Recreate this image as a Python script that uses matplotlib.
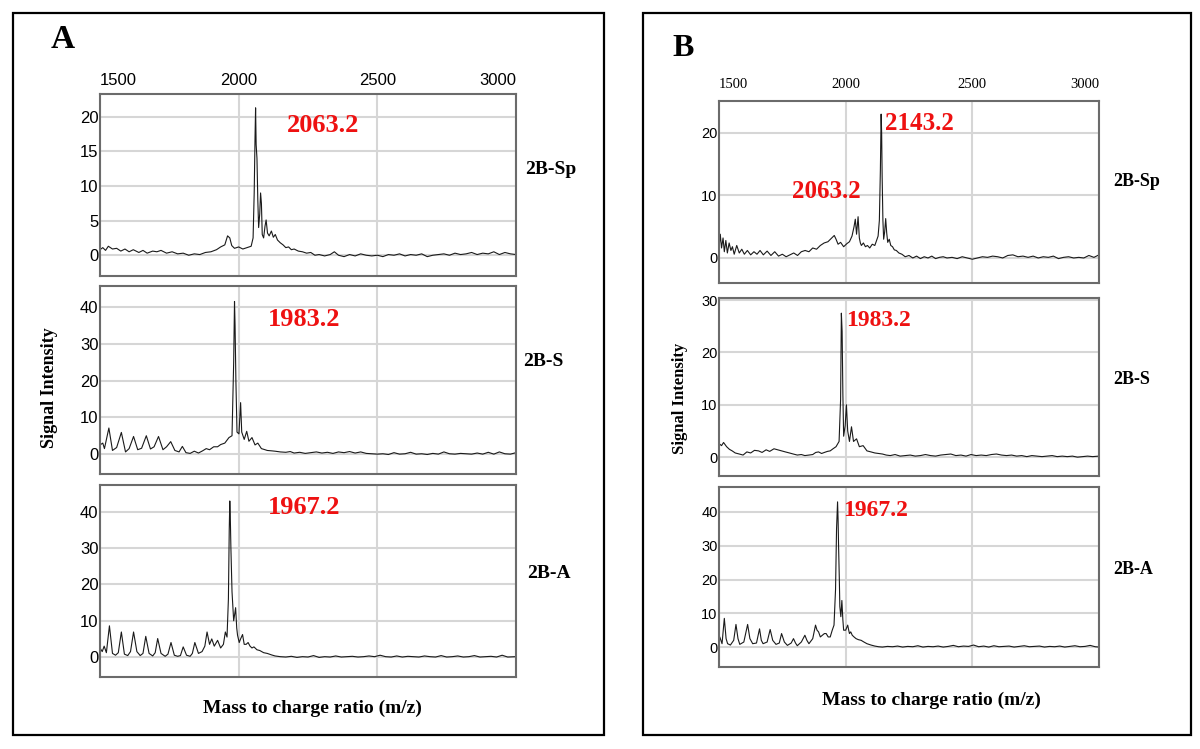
import matplotlib.pyplot as plt
from matplotlib.patches import Rectangle

W, H = 1200, 749

# m/z axis shared by every panel
mz_ticks = [1500, 2000, 2500, 3000]

# panel A, 2B-Sp
a_sp_mz = [1500, 1510, 1520, 1530, 1545, 1560, 1575, 1590, 1605, 1620, 1640, 1655, 1670, 1690, 1705,
           1720, 1740, 1760, 1780, 1800, 1820, 1840, 1860, 1880, 1900, 1920, 1935, 1950, 1960, 1968,
           1975, 1985, 2000, 2015, 2030, 2045, 2052, 2056, 2059, 2061, 2063, 2066, 2069, 2072, 2076,
           2079, 2082, 2085, 2090, 2095, 2099, 2104, 2110, 2118, 2125, 2132, 2140, 2150, 2160, 2170,
           2180, 2190, 2200, 2215, 2230, 2245, 2260, 2275, 2290, 2310, 2330, 2345, 2360, 2380, 2400,
           2420, 2440, 2460, 2480, 2500, 2520, 2540, 2560, 2580, 2600, 2620, 2640, 2660, 2680, 2700,
           2720, 2740, 2760, 2780, 2800, 2820, 2840, 2860, 2880, 2900, 2920, 2940, 2960, 2980, 3000]
a_sp_int = [0.8, 1.1, 0.7, 1.3, 0.9, 1.0, 0.6, 0.9, 0.5, 0.8, 0.4, 0.7, 0.3, 0.6, 0.5,
            0.7, 0.3, 0.5, 0.2, 0.3, 0.0, 0.2, 0.1, 0.4, 0.5, 0.8, 1.2, 1.5, 2.8, 2.5,
            1.4, 1.0, 1.2, 0.9, 1.1, 1.3, 2.5, 9.0, 17.0, 21.3, 16.0, 14.0, 8.0, 4.0, 6.0,
            9.0, 7.5, 3.0, 2.5, 4.2, 5.1, 3.2, 2.8, 3.5, 2.6, 3.0, 2.2, 1.8, 1.5, 1.1,
            1.2, 0.8, 0.9, 0.6, 0.5, 0.3, 0.4, 0.0, 0.1, -0.1, 0.1, 0.5, 0.0, -0.2, 0.1,
            -0.1, 0.2, 0.0, -0.1, 0.0, -0.2, 0.1, 0.0, 0.2, -0.1, 0.1, 0.0, 0.2, -0.2, 0.0,
            0.1, 0.2, 0.0, 0.3, 0.1, 0.2, 0.4, 0.1, 0.3, 0.2, 0.5, 0.1, 0.4, 0.2, 0.1]

# panel A, 2B-S
a_s_mz = [1500, 1510, 1516, 1532, 1545, 1560, 1577, 1592, 1605, 1621, 1636, 1650, 1667, 1682, 1695,
          1711, 1727, 1740, 1755, 1770, 1785, 1797, 1810, 1825, 1840, 1855, 1870, 1883, 1895, 1910,
          1924, 1935, 1950, 1965, 1976, 1982, 1985, 1987, 1990, 1994, 2001, 2007, 2011, 2020, 2029,
          2037, 2048, 2059, 2069, 2082, 2095, 2103, 2118, 2131, 2150, 2170, 2186, 2200, 2220, 2240,
          2260, 2280, 2300, 2320, 2340, 2360, 2380, 2400, 2420, 2440, 2460, 2480, 2500, 2520, 2540,
          2560, 2580, 2600, 2620, 2640, 2660, 2680, 2700, 2720, 2740, 2760, 2780, 2800, 2820, 2840,
          2860, 2880, 2900, 2920, 2940, 2960, 2980, 3000]
a_s_int = [2.5, 3.0, 1.5, 7.1, 1.0, 1.8, 5.9, 0.6, 1.5, 4.8, 1.2, 1.6, 5.0, 1.4, 2.0,
           4.8, 1.2, 2.0, 3.4, 1.0, 0.6, 2.1, 0.4, 0.2, 0.8, 0.3, 0.9, 1.5, 1.2, 2.0,
           2.0, 2.6, 3.0, 4.5, 5.0, 25.0, 41.5, 35.0, 20.0, 6.0, 5.5, 14.0, 6.0, 4.0, 6.2,
           3.5, 4.5, 2.5, 3.0, 1.5, 1.2, 1.0, 0.9, 0.8, 0.6, 0.5, 0.7, 0.3, 0.5, 0.2,
           0.4, 0.6, 0.3, 0.5, 0.2, 0.6, 0.4, 0.7, 0.3, 0.6, 0.2, 0.1, 0.0, 0.1, -0.1,
           0.4, 0.0, 0.1, 0.5, 0.0, 0.1, -0.1, 0.2, 0.0, 0.6, 0.1, 0.0, 0.2, 0.1, 0.0,
           0.3, 0.0, 0.5, 0.0, 0.6, 0.1, 0.0, 0.4]

# panel A, 2B-A
a_a_mz = [1500, 1508, 1515, 1523, 1534, 1545, 1556, 1566, 1577, 1588, 1600, 1610, 1621, 1633, 1645,
          1655, 1665, 1677, 1690, 1699, 1708, 1720, 1735, 1745, 1756, 1768, 1780, 1790, 1800, 1812,
          1825, 1833, 1842, 1855, 1868, 1878, 1886, 1895, 1903, 1912, 1924, 1935, 1945, 1952, 1958,
          1963, 1966, 1968, 1970, 1972, 1976, 1982, 1986, 1989, 1993, 1996, 2002, 2007, 2014, 2020,
          2027, 2034, 2041, 2048, 2055, 2066, 2076, 2090, 2103, 2118, 2131, 2150, 2170, 2190, 2210,
          2230, 2250, 2270, 2290, 2310, 2330, 2350, 2370, 2390, 2410, 2430, 2450, 2470, 2490, 2510,
          2530, 2550, 2570, 2590, 2610, 2630, 2650, 2670, 2690, 2710, 2730, 2750, 2770, 2790, 2810,
          2830, 2850, 2870, 2890, 2910, 2930, 2950, 2970, 3000]
a_a_int = [2.5, 1.5, 3.0, 1.2, 8.6, 1.0, 0.5, 1.2, 6.9, 0.8, 0.4, 1.5, 6.9, 1.5, 0.4,
           1.0, 5.7, 1.0, 0.3, 1.2, 5.1, 1.0, 0.2, 0.8, 4.0, 0.5, 0.2, 0.4, 2.8, 0.5,
           0.2, 1.0, 4.0, 1.0, 1.5, 3.0, 6.9, 3.5, 5.0, 3.0, 4.6, 2.5, 3.5, 6.9, 5.5,
           16.0, 35.0, 43.0, 38.0, 30.0, 18.0, 10.0, 12.0, 13.6, 8.0, 6.0, 4.0, 5.0, 6.2, 3.5,
           3.5, 4.0, 3.0, 2.5, 2.8, 2.0, 1.8, 1.2, 1.0, 0.6, 0.3, 0.1, 0.0, 0.2, -0.1,
           0.1, 0.0, 0.4, -0.1, 0.1, 0.0, 0.3, 0.0, 0.1, 0.2, 0.0, 0.1, 0.3, 0.1, 0.5,
           0.1, 0.0, 0.3, 0.0, 0.2, 0.1, 0.0, 0.3, 0.1, 0.0, 0.4, 0.0, 0.1, 0.3, 0.0,
           0.1, 0.4, 0.0, 0.1, 0.2, 0.0, 0.5, 0.0, 0.1]

# panel B, 2B-Sp
b_sp_mz = [1500, 1505, 1510, 1516, 1521, 1527, 1533, 1540, 1547, 1553, 1560, 1570, 1580, 1590, 1600,
           1612, 1625, 1638, 1650, 1662, 1675, 1690, 1705, 1720, 1735, 1750, 1765, 1780, 1795, 1810,
           1825, 1840, 1855, 1870, 1885, 1900, 1915, 1930, 1945, 1955, 1962, 1970, 1980, 1992, 2005,
           2015, 2025, 2033, 2038, 2043, 2049, 2054, 2058, 2062, 2070, 2078, 2086, 2095, 2105, 2115,
           2122, 2128, 2133, 2137, 2140, 2142, 2144, 2147, 2150, 2154, 2158, 2162, 2166, 2172, 2178,
           2185, 2192, 2200, 2210, 2222, 2235, 2250, 2265, 2280, 2295, 2310, 2325, 2340, 2355, 2370,
           2385, 2400, 2420, 2440, 2460, 2480, 2500, 2520, 2540, 2560, 2580, 2600, 2620, 2640, 2660,
           2680, 2700, 2720, 2740, 2760, 2780, 2800, 2820, 2840, 2860, 2880, 2900, 2920, 2940, 2960,
           2980, 3000]
b_sp_int = [1.5, 3.8, 1.6, 3.2, 1.0, 2.8, 0.8, 2.4, 1.2, 1.8, 0.6, 2.0, 0.8, 1.4, 0.6,
            1.2, 0.5, 1.0, 0.6, 1.2, 0.5, 1.1, 0.4, 1.0, 0.3, 0.6, 0.2, 0.5, 0.8, 0.4,
            1.0, 1.2, 1.0, 1.6, 1.4, 2.0, 2.4, 2.6, 3.2, 3.6, 3.0, 2.2, 2.5, 1.8, 2.3,
            2.6, 3.5, 5.0, 6.2, 3.8, 6.6, 3.2, 2.4, 2.0, 2.4, 1.8, 2.0, 1.6, 2.2, 2.0,
            2.8, 3.5, 6.0, 14.0, 23.0, 20.0, 13.0, 6.0, 3.0, 4.2, 6.3, 4.0, 2.5, 3.0, 2.0,
            1.8, 1.3, 1.2, 0.8, 0.6, 0.2, 0.4, 0.0, 0.3, -0.1, 0.2, 0.0, 0.3, -0.1, 0.1,
            0.2, 0.0, 0.1, -0.1, 0.2, 0.0, -0.2, 0.0, 0.2, 0.1, 0.3, 0.2, 0.0, 0.4, 0.5,
            0.2, 0.3, 0.1, 0.3, 0.0, 0.2, 0.1, 0.3, -0.1, 0.1, 0.2, 0.0, 0.1, 0.0, 0.4,
            0.1, 0.5]

# panel B, 2B-S
b_s_mz = [1500, 1510, 1518, 1530, 1541, 1552, 1564, 1580, 1595, 1610, 1625, 1640, 1656, 1670, 1686,
          1700, 1717, 1732, 1747, 1762, 1778, 1793, 1809, 1825, 1839, 1855, 1870, 1882, 1893, 1905,
          1916, 1928, 1939, 1950, 1962, 1974, 1980, 1983, 1986, 1989, 1992, 1998, 2003, 2008, 2015,
          2023, 2031, 2043, 2054, 2069, 2084, 2100, 2115, 2130, 2145, 2160, 2176, 2195, 2215, 2235,
          2255, 2275, 2295, 2315, 2335, 2355, 2375, 2395, 2415, 2435, 2455, 2475, 2495, 2515, 2535,
          2555, 2575, 2595, 2615, 2635, 2655, 2675, 2695, 2715, 2735, 2755, 2775, 2795, 2815, 2835,
          2855, 2875, 2895, 2915, 2935, 2955, 2975, 3000]
b_s_int = [2.6, 2.2, 2.8, 2.0, 1.5, 1.2, 0.8, 0.6, 0.4, 1.0, 0.8, 1.3, 1.2, 0.9, 1.4,
           1.1, 1.6, 1.4, 1.2, 1.0, 0.8, 0.6, 0.4, 0.5, 0.3, 0.4, 0.5, 0.9, 1.0, 0.7,
           0.9, 1.1, 1.2, 1.6, 2.0, 3.0, 11.0, 27.5, 24.0, 12.0, 4.0, 6.0, 10.0, 5.0, 3.0,
           5.8, 3.0, 3.5, 2.0, 2.2, 1.2, 1.0, 0.8, 0.7, 0.6, 0.4, 0.3, 0.5, 0.2, 0.3,
           0.4, 0.2, 0.3, 0.5, 0.3, 0.2, 0.4, 0.5, 0.6, 0.3, 0.4, 0.2, 0.5, 0.3, 0.4,
           0.3, 0.5, 0.6, 0.4, 0.3, 0.4, 0.2, 0.3, 0.1, 0.3, 0.2, 0.1, 0.2, 0.3, 0.1,
           0.2, 0.1, 0.2, 0.0, 0.1, 0.2, 0.1, 0.2]

# panel B, 2B-A
b_a_mz = [1500, 1503, 1512, 1521, 1528, 1534, 1545, 1558, 1567, 1575, 1582, 1598, 1613, 1622, 1633,
          1648, 1660, 1667, 1674, 1690, 1702, 1712, 1725, 1738, 1747, 1758, 1770, 1785, 1794, 1802,
          1809, 1825, 1839, 1847, 1855, 1870, 1881, 1887, 1893, 1900, 1908, 1916, 1923, 1931, 1939,
          1947, 1954, 1960, 1964, 1968, 1970, 1972, 1975, 1977, 1981, 1985, 1989, 1992, 2000, 2008,
          2012, 2015, 2020, 2026, 2033, 2041, 2050, 2061, 2072, 2084, 2100, 2115, 2130, 2145, 2165,
          2185, 2205, 2225, 2245, 2265, 2285, 2305, 2325, 2345, 2365, 2385, 2405, 2425, 2445, 2465,
          2485, 2505, 2525, 2545, 2565, 2585, 2605, 2625, 2645, 2665, 2685, 2705, 2725, 2745, 2765,
          2785, 2805, 2825, 2845, 2865, 2885, 2905, 2925, 2945, 2965, 2985, 3000]
b_a_int = [1.5, 3.0, 1.0, 8.5, 2.5, 1.0, 0.6, 2.0, 6.7, 2.5, 0.8, 1.5, 6.7, 2.5, 1.0,
           1.2, 5.4, 2.0, 1.0, 1.5, 5.2, 2.0, 0.8, 1.2, 4.0, 1.5, 0.5, 1.2, 2.5, 1.2,
           0.4, 1.5, 3.5, 2.0, 1.0, 2.5, 6.5, 5.0, 4.5, 3.0, 3.5, 4.0, 4.0, 3.0, 3.0,
           5.0, 6.5, 17.0, 35.0, 43.0, 38.0, 30.0, 20.0, 12.0, 9.0, 13.8, 8.0, 5.0, 5.0, 6.5,
           5.0, 4.0, 4.5, 3.5, 3.0, 2.5, 2.2, 2.0, 1.5, 1.0, 0.6, 0.3, 0.1, 0.0, 0.2,
           0.1, 0.3, 0.0, 0.2, 0.1, 0.4, 0.0, 0.2, 0.1, 0.3, 0.0, 0.2, 0.5, 0.1, 0.3,
           0.2, 0.6, 0.1, 0.3, 0.0, 0.4, 0.1, 0.2, 0.3, 0.0, 0.2, 0.4, 0.1, 0.2, 0.3,
           0.0, 0.2, 0.1, 0.3, 0.0, 0.2, 0.4, 0.1, 0.2, 0.5, 0.1, 0.0]

serif = 'Liberation Serif'
sans = 'Liberation Sans'
red = '#ee1111'


def px_axes(fig, l, t, r, b):
    return fig.add_axes([l / W, 1 - b / H, (r - l) / W, (b - t) / H])


def ftext(fig, x, y, s, **kw):
    kw.setdefault('ha', 'center')
    kw.setdefault('va', 'center')
    fig.text(x / W, 1 - y / H, s, **kw)


def spectrum(fig, box, mz, inten, ylim, yticks, ysize, top_labels=None):
    ax = px_axes(fig, *box)
    ax.plot(mz, inten, color='#1a1a1a', lw=0.8)
    ax.set_xlim(1500, 3000)
    ax.set_ylim(*ylim)
    ax.set_axisbelow(True)
    ax.grid(True, color='#d6d6d6', lw=1.5)
    ax.set_xticks(mz_ticks)
    ax.set_yticks(yticks)
    ax.set_yticklabels([str(v) for v in yticks], family=sans, fontsize=ysize)
    ax.tick_params(length=0, axis='y', pad=1)
    if top_labels:
        size, fam, pad = top_labels
        ax.xaxis.tick_top()
        ax.tick_params(axis='x', length=0, pad=pad)
        labels = ax.set_xticklabels([str(v) for v in mz_ticks], family=fam, fontsize=size)
        for lbl, ha in zip(labels, ['left', 'center', 'center', 'right']):
            lbl.set_ha(ha)
    else:
        ax.tick_params(axis='x', length=0, labelbottom=False, labeltop=False)
    for sp in ax.spines.values():
        sp.set_color('#6b6b6b')
        sp.set_linewidth(1.5)
    return ax


fig = plt.figure(figsize=(W / 100, H / 100), dpi=100)

# outer frames
for l, r in [(13, 604), (643, 1191)]:
    fig.add_artist(Rectangle((l / W, 1 - 735 / H), (r - l) / W, (735 - 13) / H,
                             transform=fig.transFigure, fill=False, lw=1.6, ec='black'))

# panel A
spectrum(fig, (100, 94, 516, 276), a_sp_mz, a_sp_int, (-3.0, 23.3), [0, 5, 10, 15, 20], 12,
         top_labels=(12, sans, 4))
spectrum(fig, (100, 286, 516, 474), a_s_mz, a_s_int, (-5.4, 45.7), [0, 10, 20, 30, 40], 12)
spectrum(fig, (100, 485, 516, 677), a_a_mz, a_a_int, (-5.5, 47.4), [0, 10, 20, 30, 40], 12)

ftext(fig, 63, 40, 'A', family=serif, weight='bold', fontsize=24)
ftext(fig, 323, 125, '2063.2', family=serif, weight='bold', fontsize=19, color=red)
ftext(fig, 304, 319, '1983.2', family=serif, weight='bold', fontsize=19, color=red)
ftext(fig, 304, 507, '1967.2', family=serif, weight='bold', fontsize=19, color=red)
ftext(fig, 551, 170, '2B-Sp', family=serif, weight='bold', fontsize=14)
ftext(fig, 543, 362, '2B-S', family=serif, weight='bold', fontsize=14)
ftext(fig, 549, 573, '2B-A', family=serif, weight='bold', fontsize=14)
ftext(fig, 50, 388, 'Signal Intensity', family=serif, weight='bold', fontsize=13, rotation=90)
ftext(fig, 312, 708, 'Mass to charge ratio (m/z)', family=serif, weight='bold', fontsize=14)

# panel B
spectrum(fig, (719, 101, 1099, 283), b_sp_mz, b_sp_int, (-4.0, 25.1), [0, 10, 20], 10.5,
         top_labels=(10.5, serif, 7))
spectrum(fig, (719, 298, 1099, 476), b_s_mz, b_s_int, (-3.6, 30.4), [0, 10, 20, 30], 10.5)
spectrum(fig, (719, 487, 1099, 667), b_a_mz, b_a_int, (-5.9, 47.4), [0, 10, 20, 30, 40], 10.5)

ftext(fig, 683, 48, 'B', family=serif, weight='bold', fontsize=23)
ftext(fig, 885, 123, '2143.2', family=serif, weight='bold', fontsize=18, color=red, ha='left')
ftext(fig, 826, 191, '2063.2', family=serif, weight='bold', fontsize=18, color=red)
ftext(fig, 846, 321, '1983.2', family=serif, weight='bold', fontsize=17, color=red, ha='left')
ftext(fig, 843, 510, '1967.2', family=serif, weight='bold', fontsize=17, color=red, ha='left')
ftext(fig, 1137, 182, '2B-Sp', family=serif, weight='bold', fontsize=13)
ftext(fig, 1132, 380, '2B-S', family=serif, weight='bold', fontsize=13)
ftext(fig, 1133, 569, '2B-A', family=serif, weight='bold', fontsize=13)
ftext(fig, 680, 398, 'Signal Intensity', family=serif, weight='bold', fontsize=12, rotation=90)
ftext(fig, 931, 700, 'Mass to charge ratio (m/z)', family=serif, weight='bold', fontsize=14)

fig.savefig('out.png', dpi=100, facecolor='white')
